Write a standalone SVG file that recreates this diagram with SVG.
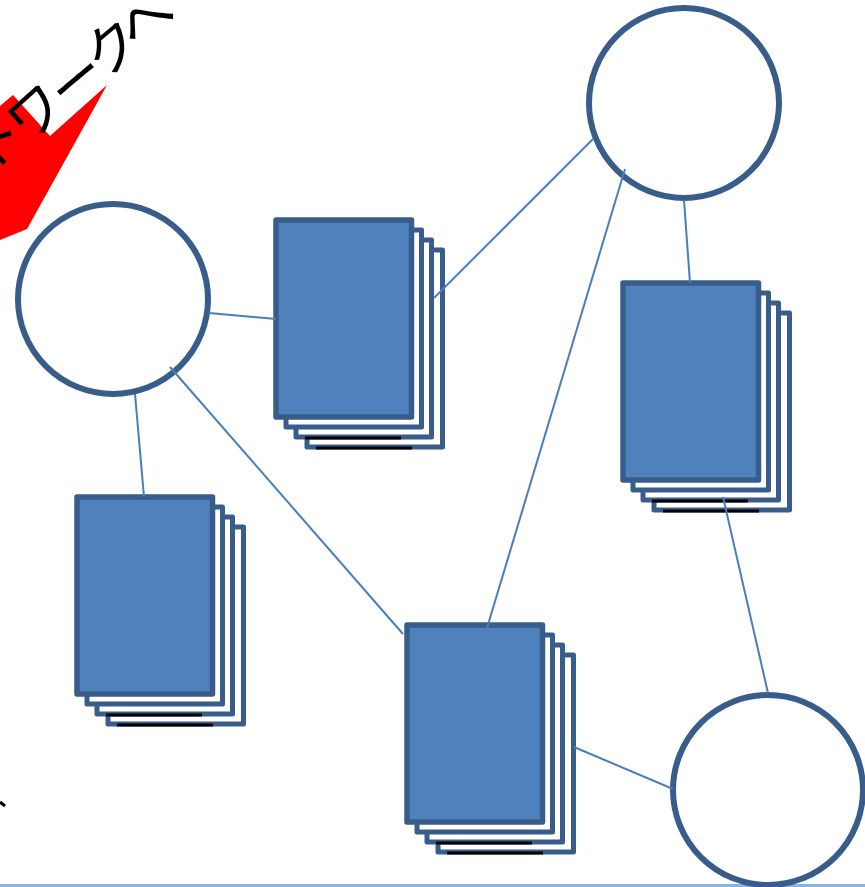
<svg xmlns="http://www.w3.org/2000/svg" width="865" height="887" viewBox="0 0 865 887">
<style>
.c{fill:#fff;stroke:#385D8A;stroke-width:6}
.b{fill:#fff;stroke:#385D8A;stroke-width:5;stroke-linejoin:round}
.f{fill:#4F81BD;stroke:#385D8A;stroke-width:5.5;stroke-linejoin:round}
.k{stroke:#000;stroke-width:3}
.l{stroke:#4A7EBB;stroke-width:2;fill:none}
</style>
<defs>
<g id="stack">
<rect class="b" x="31" y="30" width="135.500" height="197"/>
<line class="k" x1="40" y1="228" x2="136" y2="228"/>
<rect class="b" x="20" y="20" width="135.500" height="197"/>
<line class="k" x1="29" y1="218" x2="125" y2="218"/>
<rect class="b" x="10" y="10" width="135.500" height="197"/>
<rect class="f" x="0" y="0" width="135.500" height="197"/>
</g>
</defs>
<rect x="0" y="884" width="865" height="3" fill="#8AB4E4"/>
<polygon id="arrow" points="0,106 13,95 50,136 107,85 27,229 0,240" fill="#f00"/>
<g id="label"><text x="-12 28 68 104 137" y="176 145 113 80 52" rotate="-42 -42 -40 -40 -40" font-family="'Noto Sans CJK JP',sans-serif" font-size="55" font-weight="400" fill="#000">トワークへ</text></g>
<line class="k" x1="0" y1="802" x2="5" y2="806"/>
<g id="n1"><circle class="c" cx="684" cy="103" r="95"/></g>
<g id="n2"><circle class="c" cx="113" cy="299" r="95"/></g>
<g id="n3"><circle class="c" cx="768" cy="790" r="95"/></g>
<g id="s1"><use href="#stack" x="276" y="220"/></g>
<g id="s2"><use href="#stack" x="623" y="283"/></g>
<g id="s3"><use href="#stack" x="77" y="497"/></g>
<g id="s4"><use href="#stack" x="407" y="625"/></g>
<g id="connectors">
<line class="l" x1="209" y1="313" x2="276" y2="319"/>
<line class="l" x1="135" y1="394" x2="144" y2="497"/>
<line class="l" x1="170" y1="367" x2="403" y2="634"/>
<line class="l" x1="434" y1="298" x2="593" y2="139"/>
<line class="l" x1="625" y1="169" x2="487" y2="628"/>
<line class="l" x1="684" y1="200" x2="690" y2="283"/>
<line class="l" x1="723" y1="497" x2="768" y2="693"/>
<line class="l" x1="574" y1="747" x2="673" y2="789"/>
</g>
</svg>
